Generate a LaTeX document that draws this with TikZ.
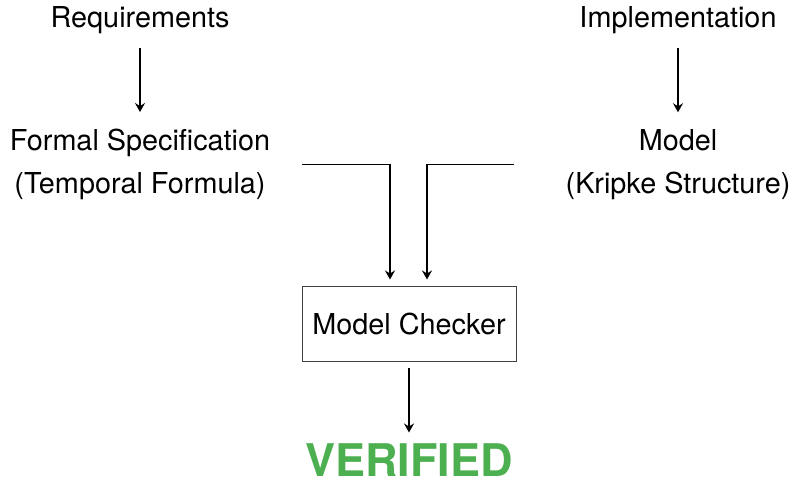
\documentclass[tikz,border=0pt]{standalone}
\usepackage{fontspec}
\setmainfont{TeX Gyre Heros}
\usepackage{xcolor}
\usepackage{tikz}
\usetikzlibrary{arrows.meta,positioning}
\definecolor{okgreen}{RGB}{76,175,80}
\tikzset{
  lbl/.style={align=center,font=\fontsize{14.4}{21.5}\selectfont},
  checkbox/.style={draw=black!75,line width=0.5pt,minimum width=107pt,
    minimum height=37.5pt,font=\fontsize{14.4}{17}\selectfont},
  result/.style={font=\fontsize{22.5}{26}\selectfont\bfseries,text=okgreen,inner sep=0.5pt},
  flow/.style={-{Stealth[length=4.5pt,width=5pt,inset=1.5pt]},line width=0.8pt},
}

\begin{document}
\begin{tikzpicture}[x=0.5pt,y=0.5pt]
\useasboundingbox (0,0) rectangle (793,481);
% inputs
\node[lbl] (req) at (140,461) {Requirements};
\node[lbl] (impl) at (678,461) {Implementation};
\node[lbl] (spec) at (140,316.5) {Formal Specification\\(Temporal Formula)};
\node[lbl] (model) at (678,316.5) {Model\\(Kripke Structure)};
\draw[flow,shorten <=3.5pt,shorten >=5pt] (req) -- (spec);
\draw[flow,shorten <=3.5pt,shorten >=5pt] (impl) -- (model);
% checker
\node[checkbox] (checker) at (409,156.5) {Model Checker};
\draw[flow,shorten >=3.5pt] ([xshift=12.5pt]spec.east) -| ([xshift=-9.5pt]checker.north);
\draw[flow,shorten >=3.5pt] ([xshift=-22.3pt]model.west) -| ([xshift=9pt]checker.north);
\node[result,below=40pt of checker] (verified) {VERIFIED};
\draw[flow,shorten <=3pt,shorten >=5pt] (checker) -- (verified);
\end{tikzpicture}
\end{document}
